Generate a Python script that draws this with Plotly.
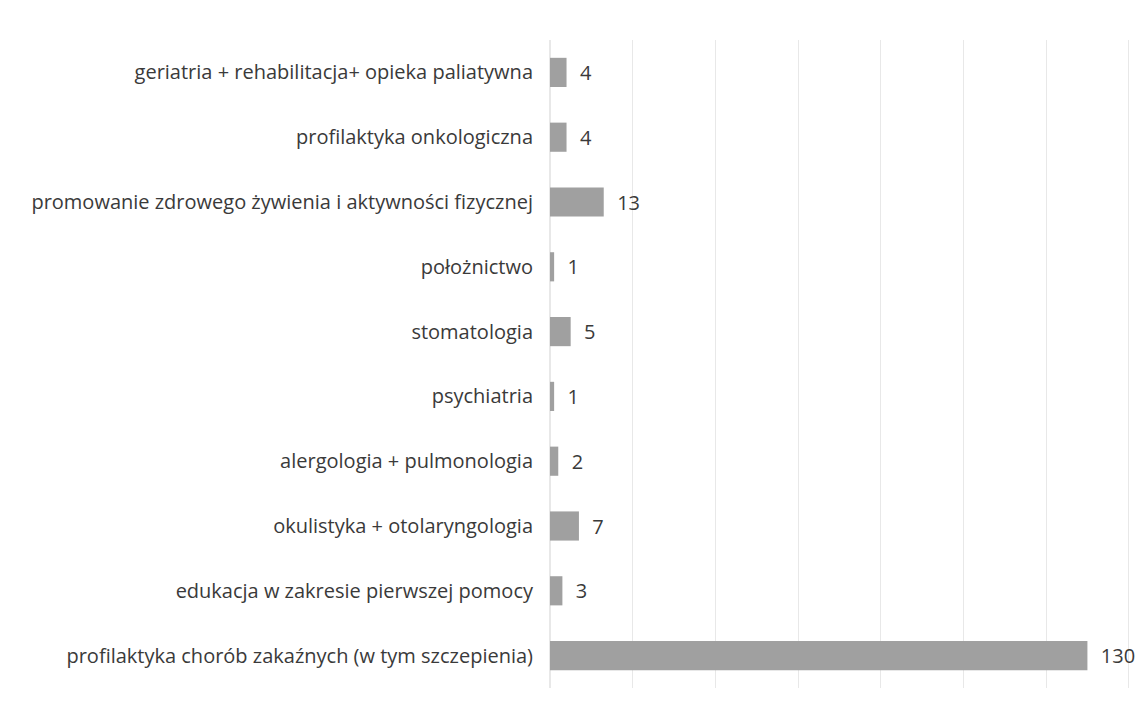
import plotly.graph_objects as go

# Kategorie (od góry do dołu) i liczby
kategorie = [
    "geriatria + rehabilitacja+ opieka paliatywna",
    "profilaktyka onkologiczna",
    "promowanie zdrowego żywienia i aktywności fizycznej",
    "położnictwo",
    "stomatologia",
    "psychiatria",
    "alergologia + pulmonologia",
    "okulistyka + otolaryngologia",
    "edukacja w zakresie pierwszej pomocy",
    "profilaktyka chorób zakaźnych (w tym szczepienia)",
]
liczby = [4, 4, 13, 1, 5, 1, 2, 7, 3, 130]

fig = go.Figure()
fig.add_trace(
    go.Bar(
        x=liczby,
        y=kategorie,
        orientation="h",
        marker=dict(color="#a0a0a0", line=dict(width=0)),
        text=liczby,
        texttemplate="  %{x}",
        textposition="outside",
        cliponaxis=False,
        textfont=dict(size=20, color="#3a3a3a"),
    )
)

# strona ma 8px marginesu body, więc marginesy są o to pomniejszone
fig.update_layout(
    plot_bgcolor="white",
    paper_bgcolor="white",
    font=dict(family="Open Sans", size=20, color="#3a3a3a"),
    margin=dict(l=542, r=10, t=32, b=18),
    bargap=0.55,
    showlegend=False,
)

fig.update_xaxes(
    range=[0, 140.3],
    dtick=20,
    showticklabels=False,
    showgrid=True,
    gridcolor="#e8e8e8",
    gridwidth=1,
    zeroline=True,
    zerolinecolor="#e8e8e8",
    showline=False,
)

fig.update_yaxes(
    autorange="reversed",
    showgrid=False,
    showline=False,
    ticks="",
    ticklabelstandoff=16,
    tickfont=dict(size=20, color="#3a3a3a"),
)

fig.write_html("out.html")
